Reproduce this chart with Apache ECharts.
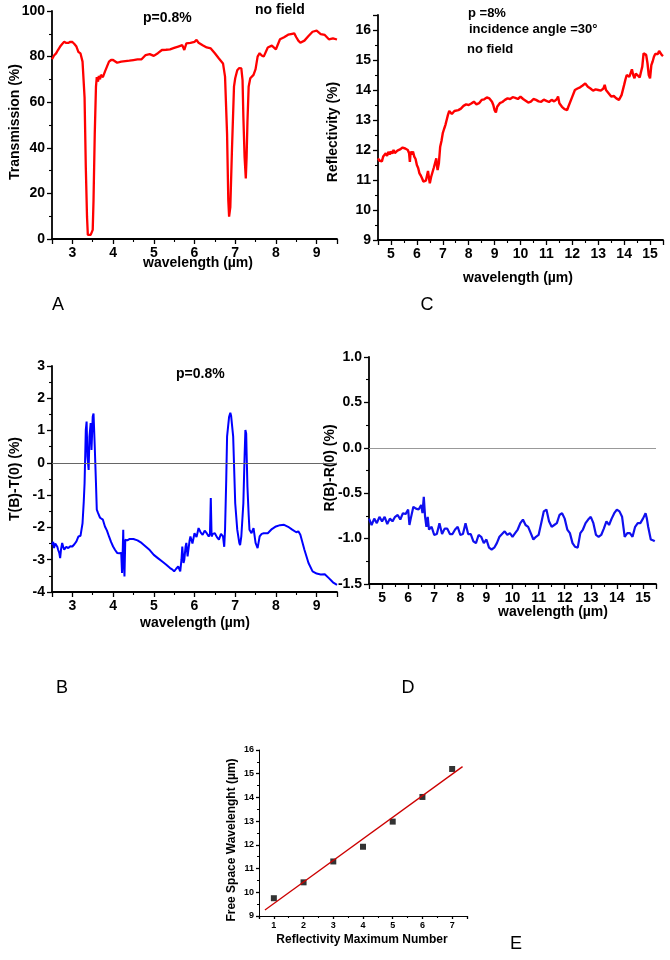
<!DOCTYPE html>
<html><head><meta charset="utf-8">
<script src="https://cdn.jsdelivr.net/npm/echarts@6/dist/echarts.min.js"></script>
<style>html,body{margin:0;padding:0;background:#fff}#c{width:670px;height:960px}</style>
</head><body><div id="c"></div><script>
// Panel A: transmission (wavelength µm, %)
const transA = [[2.5,78.8],[2.55,80.5],[2.6,81.4],[2.65,83],[2.7,84.4],[2.75,85.5],[2.8,86.5],[2.85,86],[2.9,86],[2.95,86.5],[3.0,86.4],[3.05,85.5],[3.1,84.4],[3.15,82],[3.2,81.4],[3.25,77.8],[3.3,62],[3.33,31.7],[3.36,9.8],[3.38,1.8],[3.42,1.5],[3.45,1.8],[3.48,1.8],[3.5,4],[3.52,17],[3.55,46],[3.58,66.8],[3.6,71],[3.63,69],[3.65,71.5],[3.68,70],[3.7,72],[3.75,71],[3.8,73.4],[3.85,75.6],[3.9,77.8],[3.95,78.5],[4.0,78.5],[4.1,77.3],[4.2,77.8],[4.3,78],[4.4,78.2],[4.5,78.5],[4.6,78.8],[4.7,78.8],[4.8,80.7],[4.9,81.1],[5.0,80.3],[5.1,81.5],[5.2,82.9],[5.3,83],[5.4,83.2],[5.5,83.8],[5.6,84.4],[5.7,85],[5.75,82.9],[5.8,85.8],[5.9,86],[6.0,86.5],[6.05,87.3],[6.1,86.1],[6.2,85],[6.3,84],[6.4,83.6],[6.5,81.5],[6.6,79.2],[6.7,77],[6.75,71.2],[6.8,46],[6.83,17],[6.85,9.8],[6.88,14],[6.92,39],[6.97,66.8],[7.0,70.5],[7.05,74],[7.1,75],[7.15,74.8],[7.18,69.7],[7.2,53.7],[7.23,36],[7.26,26.6],[7.28,36],[7.3,51],[7.33,66.8],[7.37,70.5],[7.4,70.5],[7.45,72],[7.5,74.5],[7.55,80],[7.6,81.5],[7.65,80.5],[7.7,80],[7.8,84],[7.9,84.8],[8.0,83.2],[8.1,87.6],[8.2,88.5],[8.3,89.6],[8.4,90],[8.45,90.2],[8.5,88.5],[8.55,87],[8.6,86.1],[8.7,87],[8.8,89],[8.9,90.9],[9.0,91.4],[9.1,89.9],[9.2,89.5],[9.3,87.6],[9.4,88],[9.5,87.5]];
// Panel C: reflectivity (wavelength µm, %)
const reflC = [[4.5,11.72],[4.55,11.65],[4.6,11.7],[4.65,11.62],[4.7,11.78],[4.75,11.72],[4.8,11.89],[4.85,11.8],[4.9,11.94],[4.95,11.85],[5.0,11.95],[5.05,11.88],[5.1,12.0],[5.15,11.9],[5.2,11.89],[5.25,11.98],[5.3,11.94],[5.35,12.02],[5.4,12.02],[5.45,12.08],[5.5,12.11],[5.55,12.05],[5.6,12.1],[5.65,12.0],[5.7,11.89],[5.73,11.6],[5.76,11.95],[5.8,11.85],[5.85,11.95],[5.9,11.78],[5.95,11.7],[6.0,11.5],[6.05,11.4],[6.1,11.22],[6.15,11.15],[6.2,11.06],[6.25,10.95],[6.3,10.94],[6.35,10.98],[6.4,11.0],[6.43,11.3],[6.47,11.05],[6.5,10.89],[6.55,11.1],[6.6,11.11],[6.65,11.4],[6.7,11.56],[6.75,11.72],[6.78,11.45],[6.8,11.33],[6.85,11.56],[6.9,12.11],[6.95,12.3],[7.0,12.56],[7.05,12.7],[7.1,12.83],[7.15,13.0],[7.2,13.17],[7.25,13.3],[7.3,13.28],[7.35,13.2],[7.4,13.22],[7.45,13.3],[7.5,13.28],[7.6,13.33],[7.7,13.38],[7.8,13.47],[7.9,13.52],[8.0,13.5],[8.1,13.55],[8.2,13.61],[8.3,13.52],[8.4,13.56],[8.5,13.67],[8.6,13.69],[8.7,13.75],[8.75,13.8],[8.8,13.72],[8.9,13.61],[8.95,13.5],[9.0,13.33],[9.05,13.25],[9.1,13.44],[9.2,13.56],[9.3,13.6],[9.4,13.67],[9.5,13.72],[9.6,13.7],[9.7,13.76],[9.8,13.74],[9.9,13.7],[10.0,13.78],[10.1,13.7],[10.2,13.64],[10.3,13.58],[10.4,13.61],[10.5,13.7],[10.6,13.67],[10.7,13.62],[10.8,13.61],[10.9,13.68],[11.0,13.64],[11.1,13.6],[11.2,13.67],[11.3,13.62],[11.4,13.69],[11.45,13.78],[11.5,13.56],[11.6,13.44],[11.7,13.36],[11.8,13.33],[11.85,13.45],[11.9,13.5],[12.0,13.78],[12.1,14.0],[12.2,14.05],[12.3,14.09],[12.4,14.15],[12.5,14.22],[12.6,14.11],[12.7,14.05],[12.8,13.98],[12.9,14.02],[13.0,14.0],[13.1,13.98],[13.2,14.05],[13.25,14.17],[13.3,14.0],[13.4,13.89],[13.5,13.78],[13.6,13.8],[13.7,13.72],[13.8,13.67],[13.9,13.83],[14.0,14.17],[14.05,14.35],[14.1,14.5],[14.2,14.44],[14.3,14.69],[14.35,14.5],[14.4,14.39],[14.45,14.55],[14.5,14.56],[14.6,14.42],[14.65,14.6],[14.7,14.78],[14.75,15.22],[14.8,15.2],[14.85,15.17],[14.9,14.9],[14.95,14.5],[15.0,14.39],[15.05,14.83],[15.1,14.95],[15.15,15.11],[15.2,15.2],[15.25,15.22],[15.3,15.2],[15.35,15.3],[15.4,15.25],[15.45,15.17],[15.5,15.13]];
// Panel B: T(B)-T(0) (%)
const diffB = [[2.5,-2.54],[2.53,-2.45],[2.55,-2.64],[2.58,-2.5],[2.6,-2.48],[2.63,-2.6],[2.65,-2.69],[2.68,-2.8],[2.7,-2.95],[2.72,-2.7],[2.75,-2.48],[2.78,-2.62],[2.8,-2.69],[2.85,-2.6],[2.9,-2.64],[2.95,-2.58],[3.0,-2.59],[3.05,-2.52],[3.1,-2.43],[3.15,-2.28],[3.2,-2.26],[3.25,-1.87],[3.28,-1.2],[3.3,-0.63],[3.33,1.02],[3.35,1.28],[3.37,0.2],[3.4,-0.22],[3.42,0.81],[3.45,1.23],[3.47,0.4],[3.5,1.43],[3.52,1.53],[3.55,0.5],[3.58,-0.63],[3.6,-1.45],[3.63,-1.55],[3.65,-1.61],[3.68,-1.7],[3.7,-1.66],[3.75,-1.76],[3.8,-1.97],[3.85,-2.1],[3.9,-2.28],[3.95,-2.45],[4.0,-2.59],[4.05,-2.7],[4.1,-2.79],[4.15,-2.8],[4.2,-2.79],[4.22,-3.41],[4.24,-2.6],[4.25,-2.07],[4.26,-2.9],[4.28,-3.52],[4.3,-2.38],[4.35,-2.4],[4.4,-2.36],[4.5,-2.36],[4.6,-2.4],[4.7,-2.48],[4.8,-2.59],[4.9,-2.7],[5.0,-2.85],[5.1,-2.95],[5.2,-3.05],[5.3,-3.15],[5.4,-3.26],[5.45,-3.3],[5.5,-3.36],[5.55,-3.28],[5.6,-3.21],[5.65,-3.36],[5.68,-3.0],[5.7,-2.59],[5.73,-3.1],[5.75,-3.0],[5.78,-2.6],[5.8,-2.48],[5.83,-2.9],[5.85,-2.9],[5.88,-2.4],[5.9,-2.28],[5.95,-2.5],[6.0,-2.18],[6.05,-2.3],[6.1,-2.02],[6.15,-2.15],[6.2,-2.23],[6.25,-2.1],[6.3,-2.18],[6.35,-2.28],[6.38,-2.2],[6.4,-1.09],[6.42,-2.28],[6.45,-2.2],[6.5,-2.18],[6.55,-2.3],[6.6,-2.38],[6.65,-2.2],[6.7,-2.28],[6.73,-2.6],[6.75,-2.07],[6.78,-0.5],[6.8,0.81],[6.85,1.43],[6.88,1.55],[6.9,1.45],[6.95,0.81],[7.0,-1.25],[7.05,-2.07],[7.1,-2.48],[7.12,-2.55],[7.15,-2.28],[7.2,-1.25],[7.23,0.2],[7.25,1.02],[7.27,0.9],[7.28,0.3],[7.3,-0.73],[7.33,-1.6],[7.35,-2.07],[7.4,-2.18],[7.45,-2.02],[7.5,-2.48],[7.55,-2.64],[7.6,-2.28],[7.65,-2.2],[7.7,-2.18],[7.8,-2.18],[7.9,-2.05],[8.0,-1.97],[8.1,-1.93],[8.2,-1.92],[8.3,-1.98],[8.4,-2.07],[8.5,-2.15],[8.55,-2.12],[8.6,-2.23],[8.7,-2.69],[8.8,-3.1],[8.9,-3.36],[9.0,-3.43],[9.1,-3.46],[9.2,-3.45],[9.3,-3.57],[9.4,-3.7],[9.5,-3.78]];
// Panel D: R(B)-R(0) (%)
const diffD = [[4.5,-0.78],[4.6,-0.85],[4.7,-0.78],[4.8,-0.83],[4.9,-0.76],[5.0,-0.81],[5.1,-0.76],[5.2,-0.84],[5.3,-0.78],[5.4,-0.81],[5.5,-0.76],[5.6,-0.74],[5.7,-0.79],[5.8,-0.72],[5.9,-0.73],[6.0,-0.68],[6.05,-0.85],[6.1,-0.78],[6.2,-0.65],[6.3,-0.67],[6.4,-0.68],[6.5,-0.63],[6.55,-0.72],[6.6,-0.54],[6.65,-0.76],[6.7,-0.87],[6.75,-0.76],[6.8,-0.9],[6.9,-0.87],[7.0,-0.96],[7.1,-0.95],[7.2,-0.83],[7.3,-0.95],[7.4,-0.89],[7.5,-0.89],[7.6,-0.95],[7.7,-0.95],[7.8,-0.9],[7.9,-0.87],[8.0,-0.96],[8.1,-0.95],[8.2,-0.83],[8.3,-0.95],[8.4,-0.95],[8.5,-1.03],[8.6,-1.05],[8.7,-0.96],[8.8,-0.98],[8.9,-1.05],[9.0,-1.01],[9.1,-1.1],[9.2,-1.12],[9.3,-1.1],[9.4,-1.05],[9.5,-0.98],[9.6,-0.95],[9.7,-0.92],[9.8,-0.96],[9.9,-0.94],[10.0,-0.98],[10.1,-0.94],[10.2,-0.9],[10.3,-0.83],[10.4,-0.79],[10.5,-0.85],[10.6,-0.87],[10.7,-0.94],[10.8,-1.01],[10.9,-0.98],[11.0,-0.96],[11.1,-0.83],[11.2,-0.7],[11.3,-0.68],[11.4,-0.81],[11.5,-0.87],[11.6,-0.85],[11.7,-0.83],[11.8,-0.74],[11.9,-0.72],[12.0,-0.78],[12.1,-0.9],[12.2,-0.94],[12.3,-1.05],[12.4,-1.09],[12.5,-1.1],[12.6,-0.94],[12.7,-0.9],[12.8,-0.83],[12.9,-0.79],[13.0,-0.76],[13.1,-0.83],[13.2,-0.96],[13.3,-0.98],[13.4,-0.96],[13.5,-0.89],[13.6,-0.81],[13.7,-0.85],[13.8,-0.78],[13.9,-0.72],[14.0,-0.68],[14.1,-0.7],[14.2,-0.76],[14.3,-0.98],[14.4,-0.94],[14.5,-0.94],[14.6,-0.98],[14.7,-0.87],[14.8,-0.83],[14.9,-0.83],[15.0,-0.78],[15.1,-0.72],[15.15,-0.78],[15.2,-0.87],[15.3,-1.01],[15.4,-1.02],[15.45,-1.03]];
// Panel E
const maxNumE = [1, 2, 3, 4, 5, 6, 7];
const maxWaveE = [9.75, 10.42, 11.3, 11.92, 12.98, 14.02, 15.2];
const fitE = [[0.7, 9.25], [7.35, 15.3]];

const FONT = '"Liberation Sans", Arial, sans-serif';
const intFmt = v => (Math.abs(v - Math.round(v)) < 1e-6 ? String(Math.round(v)) : '');

function axis(type, gi, min, max, opt) {
  const o = Object.assign({fs: 14, split: null, interval: null, minor: 2, fmt: intFmt, margin: 7, lw: 1.8, tl: 5}, opt || {});
  const a = {
    type: 'value', gridIndex: gi, min: min, max: max,
    axisLine: {show: true, onZero: false, lineStyle: {color: '#000', width: o.lw}},
    axisTick: {show: true, inside: false, length: o.tl, lineStyle: {color: '#000', width: 1.3}},
    minorTick: {show: true, splitNumber: o.minor, length: Math.round(o.tl * 0.6), lineStyle: {color: '#000', width: 1.1}},
    splitLine: {show: false},
    axisLabel: {color: '#000', fontFamily: FONT, fontWeight: 'bold', fontSize: o.fs, margin: o.margin, formatter: o.fmt}
  };
  if (o.split) a.splitNumber = o.split;
  if (o.interval) a.interval = o.interval;
  return a;
}

const zeroLine = (c) => ({silent: true, symbol: 'none', animation: false, label: {show: false},
  lineStyle: {color: c, width: 1, type: 'solid'}, data: [{yAxis: 0}]});

function txt(text, x, y, fs, opt) {
  opt = opt || {};
  return {type: 'text', x: x, y: y, rotation: opt.rot ? Math.PI / 2 : 0, silent: true,
    style: {text: text, fill: '#000', font: (opt.w || 'bold') + ' ' + fs + 'px ' + FONT,
      align: opt.align || 'center', verticalAlign: 'middle'}};
}

const chart = echarts.init(document.getElementById('c'), null, {renderer: 'canvas'});
chart.setOption({
  animation: false,
  backgroundColor: '#fff',
  grid: [
    {left: 52, top: 11, width: 285, height: 228},
    {left: 378, top: 15, width: 285, height: 225},
    {left: 52, top: 366, width: 285, height: 226},
    {left: 369, top: 357, width: 287, height: 227},
    {left: 259, top: 750, width: 208, height: 166}
  ],
  xAxis: [
    axis('x', 0, 2.5, 9.5, {split: 7}),
    axis('x', 1, 4.5, 15.5, {split: 11}),
    axis('x', 2, 2.5, 9.5, {split: 7}),
    axis('x', 3, 4.5, 15.5, {split: 11}),
    axis('x', 4, 0.5, 7.5, {split: 7, fs: 9, lw: 1, tl: 3, margin: 5})
  ],
  yAxis: [
    axis('y', 0, 0, 100, {interval: 20, fmt: v => String(v)}),
    axis('y', 1, 9, 16.5, {interval: 1}),
    axis('y', 2, -4, 3, {interval: 1}),
    axis('y', 3, -1.5, 1.0, {interval: 0.5, fmt: v => v.toFixed(1)}),
    axis('y', 4, 9, 16, {interval: 1, fs: 9, lw: 1, tl: 3, margin: 5})
  ],
  series: [
    {type: 'line', xAxisIndex: 0, yAxisIndex: 0, data: transA, showSymbol: false, symbol: 'none',
      lineStyle: {color: '#ff0000', width: 2.3}},
    {type: 'line', xAxisIndex: 1, yAxisIndex: 1, data: reflC, showSymbol: false, symbol: 'none',
      lineStyle: {color: '#ff0000', width: 2.4}},
    {type: 'line', xAxisIndex: 2, yAxisIndex: 2, data: diffB, showSymbol: false, symbol: 'none',
      lineStyle: {color: '#0000ff', width: 2}, markLine: zeroLine('#666')},
    {type: 'line', xAxisIndex: 3, yAxisIndex: 3, data: diffD, showSymbol: false, symbol: 'none',
      lineStyle: {color: '#1010ee', width: 2.2}, markLine: zeroLine('#999')},
    {type: 'line', xAxisIndex: 4, yAxisIndex: 4, data: fitE, showSymbol: false, symbol: 'none',
      lineStyle: {color: '#cc0000', width: 1.3}},
    {type: 'scatter', xAxisIndex: 4, yAxisIndex: 4, data: maxNumE.map((n, i) => [n, maxWaveE[i]]),
      symbol: 'rect', symbolSize: 6, itemStyle: {color: '#000'}}
  ],
  graphic: [
    txt('p=0.8%', 143, 18, 14, {align: 'left'}),
    txt('no field', 255, 10, 14, {align: 'left'}),
    txt('Transmission (%)', 15, 122, 14, {rot: true}),
    txt('wavelength (µm)', 198, 263, 14),
    txt('A', 58, 305, 18, {w: 'normal'}),
    txt('p =8%', 468, 13, 13, {align: 'left'}),
    txt('incidence angle =30°', 469, 29, 13, {align: 'left'}),
    txt('no field', 467, 49, 13, {align: 'left'}),
    txt('Reflectivity (%)', 333, 132, 14, {rot: true}),
    txt('wavelength (µm)', 518, 278, 14),
    txt('C', 427, 305, 18, {w: 'normal'}),
    txt('p=0.8%', 176, 374, 14, {align: 'left'}),
    txt('T(B)-T(0) (%)', 15, 479, 14, {rot: true}),
    txt('wavelength (µm)', 195, 623, 14),
    txt('B', 62, 688, 18, {w: 'normal'}),
    txt('R(B)-R(0) (%)', 330, 468, 14, {rot: true}),
    txt('wavelength (µm)', 553, 612, 14),
    txt('D', 408, 688, 18, {w: 'normal'}),
    txt('Free Space Wavelenght (µm)', 232, 840, 12, {rot: true}),
    txt('Reflectivity Maximum Number', 362, 940, 12),
    txt('E', 516, 944, 18, {w: 'normal'})
  ]
});
</script></body></html>
